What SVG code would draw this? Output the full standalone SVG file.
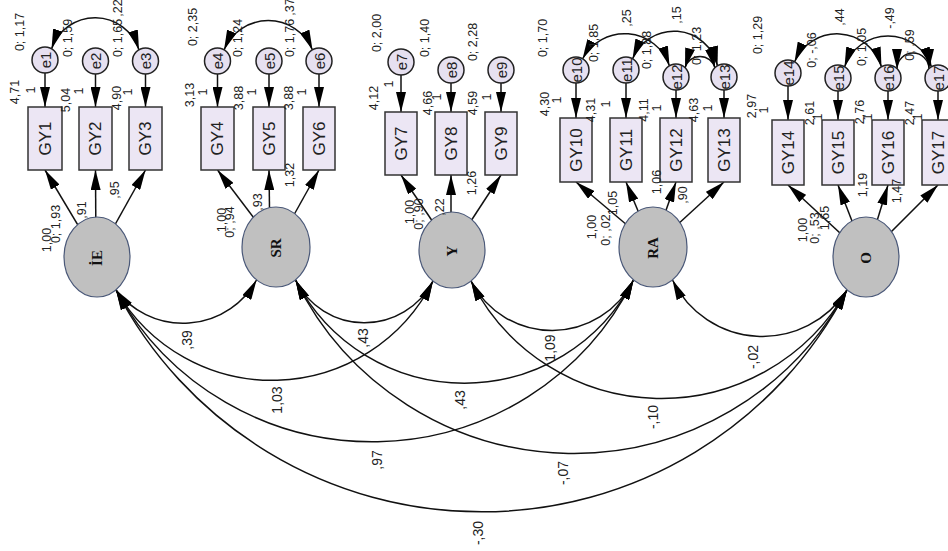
<svg xmlns="http://www.w3.org/2000/svg" width="948" height="551" viewBox="0 0 948 551">
<style>
.t{font-family:"Liberation Sans",Arial,sans-serif;font-size:12.5px;fill:#222;text-anchor:middle;dominant-baseline:central}
.k{font-family:"Liberation Sans",Arial,sans-serif;font-size:14px;fill:#222;text-anchor:middle;dominant-baseline:central}
.b{font-family:"Liberation Sans",Arial,sans-serif;font-size:17px;fill:#222;text-anchor:middle;dominant-baseline:central}
.e{font-family:"Liberation Sans",Arial,sans-serif;font-size:15px;fill:#222;text-anchor:middle;dominant-baseline:central}
.l{font-family:"Liberation Serif","Times New Roman",serif;font-size:15px;font-weight:bold;fill:#111;text-anchor:middle;dominant-baseline:central}
.box{fill:#ECE6F4;stroke:#333;stroke-width:1.5}
.err{fill:#E6E0F0;stroke:#222;stroke-width:1.5}
.lat{fill:#C0C0C0;stroke:#4A5878;stroke-width:1.2}
.a{stroke:#111;stroke-width:1.5;marker-end:url(#ah)}
.cv{fill:none;stroke:#111;stroke-width:1.5;marker-start:url(#ah2);marker-end:url(#ah2)}
</style>
<defs>
<marker id="ah" viewBox="0 0 20 10" refX="20" refY="5" markerWidth="20" markerHeight="10" markerUnits="userSpaceOnUse" orient="auto"><path d="M0,0 L20,5 L0,10 z" fill="#000"/></marker>
<marker id="ah2" viewBox="0 0 20 10" refX="20" refY="5" markerWidth="20" markerHeight="10" markerUnits="userSpaceOnUse" orient="auto-start-reverse"><path d="M0,0 L20,5 L0,10 z" fill="#000"/></marker>
</defs>
<rect width="948" height="551" fill="#fff"/>

<g id="connectors">
<line class="a" x1="45" y1="60" x2="45" y2="107"/>
<line class="a" x1="95.5" y1="61" x2="95.5" y2="107"/>
<line class="a" x1="145.5" y1="61" x2="145.5" y2="107"/>
<line class="a" x1="217.5" y1="61" x2="217.5" y2="107"/>
<line class="a" x1="269" y1="61" x2="269" y2="107"/>
<line class="a" x1="319" y1="61" x2="319" y2="107"/>
<line class="a" x1="401" y1="62" x2="401" y2="112"/>
<line class="a" x1="451" y1="70" x2="451" y2="112"/>
<line class="a" x1="501" y1="70" x2="501" y2="112"/>
<line class="a" x1="576" y1="70" x2="576" y2="118"/>
<line class="a" x1="626" y1="70" x2="626" y2="118"/>
<line class="a" x1="676" y1="77" x2="676" y2="118"/>
<line class="a" x1="724" y1="77" x2="724" y2="118"/>
<line class="a" x1="788" y1="73" x2="788" y2="120"/>
<line class="a" x1="838" y1="78" x2="838" y2="120"/>
<line class="a" x1="888" y1="78" x2="888" y2="120"/>
<line class="a" x1="938" y1="78" x2="938" y2="120"/>
<line class="a" x1="97" y1="257" x2="45" y2="170"/>
<line class="a" x1="96" y1="257" x2="95.5" y2="170"/>
<line class="a" x1="97" y1="257" x2="145.5" y2="170"/>
<line class="a" x1="276" y1="247" x2="217.5" y2="170"/>
<line class="a" x1="270" y1="247" x2="269" y2="170"/>
<line class="a" x1="276" y1="247" x2="319" y2="170"/>
<line class="a" x1="452" y1="250" x2="401" y2="175"/>
<line class="a" x1="451" y1="250" x2="451" y2="175"/>
<line class="a" x1="452" y1="250" x2="501" y2="175"/>
<line class="a" x1="653" y1="247" x2="576" y2="182"/>
<line class="a" x1="653" y1="247" x2="626" y2="182"/>
<line class="a" x1="653" y1="247" x2="676" y2="182"/>
<line class="a" x1="653" y1="247" x2="724" y2="182"/>
<line class="a" x1="866" y1="257" x2="788" y2="185"/>
<line class="a" x1="866" y1="257" x2="838" y2="185"/>
<line class="a" x1="866" y1="257" x2="888" y2="185"/>
<line class="a" x1="866" y1="257" x2="938" y2="185"/>
<path class="cv" d="M51.5,49 A46,46 0 0 1 139,50"/>
<path class="cv" d="M224,50 A48,48 0 0 1 312.5,50"/>
<path class="cv" d="M582.5,59 A47.5,47.5 0 0 1 669.5,66"/>
<path class="cv" d="M632.5,59 A44.7,44.7 0 0 1 717.5,66"/>
<path class="cv" d="M685,68 A15.5,15.5 0 0 1 715,68"/>
<path class="cv" d="M794.5,62 A46.3,46.3 0 0 1 881.5,67"/>
<path class="cv" d="M844.5,67 A46,46 0 0 1 931.5,67"/>
<path class="cv" d="M897,69 A16,16 0 0 1 929,69"/>
<path class="cv" d="M116,290 A84,84 0 0 0 256.5,280"/>
<path class="cv" d="M295.5,280 A77,77 0 0 0 433,281"/>
<path class="cv" d="M471,281 A91,91 0 0 0 633.5,280"/>
<path class="cv" d="M672.5,280 A100,100 0 0 0 847,290"/>
<path class="cv" d="M116,290 A180,180 0 0 0 433,281"/>
<path class="cv" d="M295.5,280 A190,190 0 0 0 633.5,280"/>
<path class="cv" d="M471,281 A213,213 0 0 0 847,290"/>
<path class="cv" d="M116,290 A292,292 0 0 0 633.5,280"/>
<path class="cv" d="M295.5,280 A310,310 0 0 0 847,290"/>
<path class="cv" d="M116,290 A412,412 0 0 0 847,290"/>
</g>

<g id="n-IE"><ellipse class="lat" cx="97" cy="257" rx="33" ry="40"/><text class="l" transform="translate(97 258) rotate(-90)">İE</text></g>
<g id="n-SR"><ellipse class="lat" cx="276" cy="247" rx="34" ry="40"/><text class="l" transform="translate(276 248) rotate(-90)">SR</text></g>
<g id="n-Y"><ellipse class="lat" cx="452" cy="250" rx="33" ry="38"/><text class="l" transform="translate(452 251) rotate(-90)">Y</text></g>
<g id="n-RA"><ellipse class="lat" cx="653" cy="247" rx="34" ry="40"/><text class="l" transform="translate(653 248) rotate(-90)">RA</text></g>
<g id="n-O"><ellipse class="lat" cx="866" cy="257" rx="33" ry="40"/><text class="l" transform="translate(866 258) rotate(-90)">O</text></g>

<g id="n-GY1"><rect class="box" x="28" y="107" width="34" height="63"/><text class="b" transform="translate(45 138.5) rotate(-90)">GY1</text></g>
<g id="n-GY2"><rect class="box" x="79" y="107" width="33" height="63"/><text class="b" transform="translate(95.5 138.5) rotate(-90)">GY2</text></g>
<g id="n-GY3"><rect class="box" x="129" y="107" width="33" height="63"/><text class="b" transform="translate(145.5 138.5) rotate(-90)">GY3</text></g>
<g id="n-GY4"><rect class="box" x="201" y="107" width="33" height="63"/><text class="b" transform="translate(217.5 138.5) rotate(-90)">GY4</text></g>
<g id="n-GY5"><rect class="box" x="253" y="107" width="32" height="63"/><text class="b" transform="translate(269 138.5) rotate(-90)">GY5</text></g>
<g id="n-GY6"><rect class="box" x="303" y="107" width="32" height="63"/><text class="b" transform="translate(319 138.5) rotate(-90)">GY6</text></g>
<g id="n-GY7"><rect class="box" x="385" y="112" width="32" height="63"/><text class="b" transform="translate(401 143.5) rotate(-90)">GY7</text></g>
<g id="n-GY8"><rect class="box" x="435" y="112" width="32" height="63"/><text class="b" transform="translate(451 143.5) rotate(-90)">GY8</text></g>
<g id="n-GY9"><rect class="box" x="485" y="112" width="32" height="63"/><text class="b" transform="translate(501 143.5) rotate(-90)">GY9</text></g>
<g id="n-GY10"><rect class="box" x="560" y="118" width="32" height="64"/><text class="b" transform="translate(576 150) rotate(-90)">GY10</text></g>
<g id="n-GY11"><rect class="box" x="610" y="118" width="32" height="64"/><text class="b" transform="translate(626 150) rotate(-90)">GY11</text></g>
<g id="n-GY12"><rect class="box" x="660" y="118" width="32" height="64"/><text class="b" transform="translate(676 150) rotate(-90)">GY12</text></g>
<g id="n-GY13"><rect class="box" x="708" y="118" width="32" height="64"/><text class="b" transform="translate(724 150) rotate(-90)">GY13</text></g>
<g id="n-GY14"><rect class="box" x="772" y="120" width="32" height="65"/><text class="b" transform="translate(788 152.5) rotate(-90)">GY14</text></g>
<g id="n-GY15"><rect class="box" x="822" y="120" width="32" height="65"/><text class="b" transform="translate(838 152.5) rotate(-90)">GY15</text></g>
<g id="n-GY16"><rect class="box" x="872" y="120" width="32" height="65"/><text class="b" transform="translate(888 152.5) rotate(-90)">GY16</text></g>
<g id="n-GY17"><rect class="box" x="922" y="120" width="32" height="65"/><text class="b" transform="translate(938 152.5) rotate(-90)">GY17</text></g>

<g id="n-e1"><circle class="err" cx="45" cy="60" r="13"/><text class="e" transform="translate(45 60) rotate(-90)">e1</text></g>
<g id="n-e2"><circle class="err" cx="95.5" cy="61" r="13"/><text class="e" transform="translate(95.5 61) rotate(-90)">e2</text></g>
<g id="n-e3"><circle class="err" cx="145.5" cy="61" r="13"/><text class="e" transform="translate(145.5 61) rotate(-90)">e3</text></g>
<g id="n-e4"><circle class="err" cx="217.5" cy="61" r="13"/><text class="e" transform="translate(217.5 61) rotate(-90)">e4</text></g>
<g id="n-e5"><circle class="err" cx="269" cy="61" r="13"/><text class="e" transform="translate(269 61) rotate(-90)">e5</text></g>
<g id="n-e6"><circle class="err" cx="319" cy="61" r="13"/><text class="e" transform="translate(319 61) rotate(-90)">e6</text></g>
<g id="n-e7"><circle class="err" cx="401" cy="62" r="13"/><text class="e" transform="translate(401 62) rotate(-90)">e7</text></g>
<g id="n-e8"><circle class="err" cx="451" cy="70" r="13"/><text class="e" transform="translate(451 70) rotate(-90)">e8</text></g>
<g id="n-e9"><circle class="err" cx="501" cy="70" r="13"/><text class="e" transform="translate(501 70) rotate(-90)">e9</text></g>
<g id="n-e10"><circle class="err" cx="576" cy="70" r="13"/><text class="e" transform="translate(576 70) rotate(-90)">e10</text></g>
<g id="n-e11"><circle class="err" cx="626" cy="70" r="13"/><text class="e" transform="translate(626 70) rotate(-90)">e11</text></g>
<g id="n-e12"><circle class="err" cx="676" cy="77" r="13"/><text class="e" transform="translate(676 77) rotate(-90)">e12</text></g>
<g id="n-e13"><circle class="err" cx="724" cy="77" r="13"/><text class="e" transform="translate(724 77) rotate(-90)">e13</text></g>
<g id="n-e14"><circle class="err" cx="788" cy="73" r="13"/><text class="e" transform="translate(788 73) rotate(-90)">e14</text></g>
<g id="n-e15"><circle class="err" cx="838" cy="78" r="13"/><text class="e" transform="translate(838 78) rotate(-90)">e15</text></g>
<g id="n-e16"><circle class="err" cx="888" cy="78" r="13"/><text class="e" transform="translate(888 78) rotate(-90)">e16</text></g>
<g id="n-e17"><circle class="err" cx="938" cy="78" r="13"/><text class="e" transform="translate(938 78) rotate(-90)">e17</text></g>

<g id="labels">
<text class="t" transform="translate(20 32) rotate(-90)">0; 1,17</text>
<text class="t" transform="translate(68 38) rotate(-90)">0; 1,59</text>
<text class="t" transform="translate(118 8) rotate(-90)">,22</text>
<text class="t" transform="translate(118 38) rotate(-90)">0; 1,65</text>
<text class="t" transform="translate(193 27) rotate(-90)">0; 2,35</text>
<text class="t" transform="translate(238 38) rotate(-90)">0; 1,24</text>
<text class="t" transform="translate(290 7) rotate(-90)">,37</text>
<text class="t" transform="translate(290 38) rotate(-90)">0; 1,76</text>
<text class="t" transform="translate(377 33) rotate(-90)">0; 2,00</text>
<text class="t" transform="translate(425 38) rotate(-90)">0; 1,40</text>
<text class="t" transform="translate(473 42) rotate(-90)">0; 2,28</text>
<text class="t" transform="translate(543 38) rotate(-90)">0; 1,70</text>
<text class="t" transform="translate(594 43) rotate(-90)">0; 1,85</text>
<text class="t" transform="translate(627 18) rotate(-90)">,25</text>
<text class="t" transform="translate(647 50) rotate(-90)">0; 1,88</text>
<text class="t" transform="translate(677 15) rotate(-90)">,15</text>
<text class="t" transform="translate(697 46) rotate(-90)">0; 1,23</text>
<text class="t" transform="translate(758 35) rotate(-90)">0; 1,29</text>
<text class="t" transform="translate(812 50) rotate(-90)">0; -,06</text>
<text class="t" transform="translate(840 17) rotate(-90)">,44</text>
<text class="t" transform="translate(862 47) rotate(-90)">0; 1,05</text>
<text class="t" transform="translate(890 18) rotate(-90)">-,49</text>
<text class="t" transform="translate(910 45) rotate(-90)">0; ,59</text>

<text class="t" transform="translate(15 92) rotate(-90)">4,71</text>
<text class="t" transform="translate(31 90) rotate(-90)">1</text>
<text class="t" transform="translate(66 100) rotate(-90)">5,04</text>
<text class="t" transform="translate(79 91) rotate(-90)">1</text>
<text class="t" transform="translate(117 98) rotate(-90)">4,90</text>
<text class="t" transform="translate(128 92) rotate(-90)">1</text>
<text class="t" transform="translate(190 95) rotate(-90)">3,13</text>
<text class="t" transform="translate(203 92) rotate(-90)">1</text>
<text class="t" transform="translate(239 98) rotate(-90)">3,88</text>
<text class="t" transform="translate(252 92) rotate(-90)">1</text>
<text class="t" transform="translate(289 98) rotate(-90)">3,88</text>
<text class="t" transform="translate(302 92) rotate(-90)">1</text>
<text class="t" transform="translate(374 98) rotate(-90)">4,12</text>
<text class="t" transform="translate(389 84) rotate(-90)">1</text>
<text class="t" transform="translate(428 103) rotate(-90)">4,66</text>
<text class="t" transform="translate(437 97) rotate(-90)">1</text>
<text class="t" transform="translate(473 103) rotate(-90)">4,59</text>
<text class="t" transform="translate(487 97) rotate(-90)">1</text>
<text class="t" transform="translate(545 104) rotate(-90)">4,30</text>
<text class="t" transform="translate(557 100) rotate(-90)">1</text>
<text class="t" transform="translate(591 110) rotate(-90)">4,31</text>
<text class="t" transform="translate(606 104) rotate(-90)">1</text>
<text class="t" transform="translate(644 110) rotate(-90)">4,11</text>
<text class="t" transform="translate(657 108) rotate(-90)">1</text>
<text class="t" transform="translate(694 110) rotate(-90)">4,63</text>
<text class="t" transform="translate(708 108) rotate(-90)">1</text>
<text class="t" transform="translate(752 106) rotate(-90)">2,97</text>
<text class="t" transform="translate(764 110) rotate(-90)">1</text>
<text class="t" transform="translate(810 113) rotate(-90)">2,61</text>
<text class="t" transform="translate(818 117) rotate(-90)">1</text>
<text class="t" transform="translate(860 112) rotate(-90)">2,76</text>
<text class="t" transform="translate(868 117) rotate(-90)">1</text>
<text class="t" transform="translate(910 113) rotate(-90)">2,47</text>
<text class="t" transform="translate(918 117) rotate(-90)">1</text>

<text class="t" transform="translate(56 224) rotate(-90)">0; 1,93</text>
<text class="t" transform="translate(47 240) rotate(-90)">1,00</text>
<text class="t" transform="translate(82 210) rotate(-90)">,91</text>
<text class="t" transform="translate(115 190) rotate(-90)">,95</text>
<text class="t" transform="translate(222 220) rotate(-90)">1,00</text>
<text class="t" transform="translate(230 222) rotate(-90)">0; ,94</text>
<text class="t" transform="translate(258 202) rotate(-90)">,93</text>
<text class="t" transform="translate(290 175) rotate(-90)">1,32</text>
<text class="t" transform="translate(410 212) rotate(-90)">1,00</text>
<text class="t" transform="translate(419 214) rotate(-90)">0; ,90</text>
<text class="t" transform="translate(440 207) rotate(-90)">,22</text>
<text class="t" transform="translate(472 183) rotate(-90)">1,26</text>
<text class="t" transform="translate(592 227) rotate(-90)">1,00</text>
<text class="t" transform="translate(606 230) rotate(-90)">0; ,02</text>
<text class="t" transform="translate(613 203) rotate(-90)">1,05</text>
<text class="t" transform="translate(657 182) rotate(-90)">1,06</text>
<text class="t" transform="translate(683 195) rotate(-90)">,90</text>
<text class="t" transform="translate(803 230) rotate(-90)">1,00</text>
<text class="t" transform="translate(815 228) rotate(-90)">0; ,53</text>
<text class="t" transform="translate(825 218) rotate(-90)">1,65</text>
<text class="t" transform="translate(863 185) rotate(-90)">1,19</text>
<text class="t" transform="translate(897 191) rotate(-90)">1,47</text>

<text class="k" transform="translate(187 340) rotate(-90)">,39</text>
<text class="k" transform="translate(363 338) rotate(-90)">,43</text>
<text class="k" transform="translate(277 400) rotate(-90)">1,03</text>
<text class="k" transform="translate(460 400) rotate(-90)">,43</text>
<text class="k" transform="translate(550 348) rotate(-90)">1,09</text>
<text class="k" transform="translate(753 357) rotate(-90)">-,02</text>
<text class="k" transform="translate(653 417) rotate(-90)">-,10</text>
<text class="k" transform="translate(377 460) rotate(-90)">,97</text>
<text class="k" transform="translate(563 473) rotate(-90)">-,07</text>
<text class="k" transform="translate(478 533) rotate(-90)">-,30</text>
</g>
</svg>
